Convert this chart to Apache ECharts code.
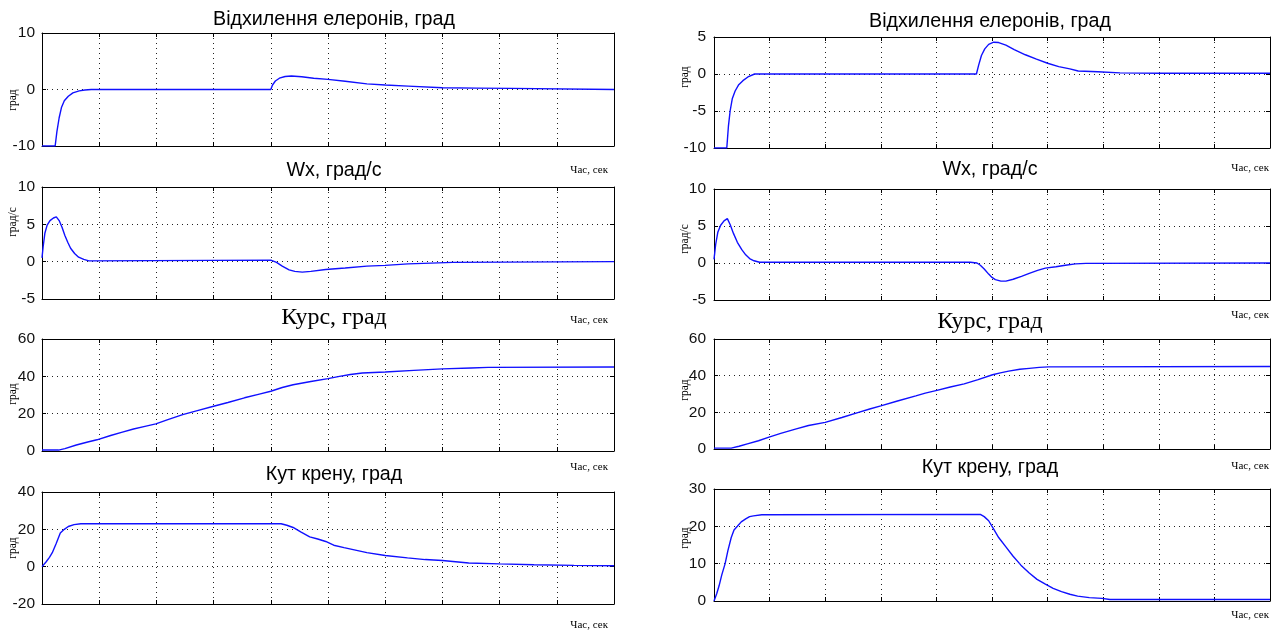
<!DOCTYPE html>
<html>
<head>
<meta charset="utf-8">
<script src="https://cdn.jsdelivr.net/npm/echarts@6/dist/echarts.min.js"></script>
<style>html,body{margin:0;padding:0;background:#fff}#c{width:1274px;height:630px}</style>
</head>
<body>
<div id="c"></div>
<script>
// ---- data (time 0..100, 10 grid divisions) ----
const aileronLeft = [[0,-10],[2.3,-10],[2.6,-7.5],[3.0,-5],[3.4,-3.2],[3.9,-2],[4.6,-1.2],[5.4,-0.6],[6.5,-0.25],[7.5,-0.1],[8.6,0],[40,0],[40.3,0.8],[40.8,1.5],[41.5,2.0],[42.5,2.3],[43.6,2.4],[45.4,2.25],[47.5,2.0],[50,1.8],[53,1.45],[56.8,1.0],[60,0.8],[64,0.6],[70,0.3],[76,0.25],[82,0.2],[82.2,0],[100,0]];
const aileronRight = [[0,-10],[2.3,-10],[2.6,-7],[2.9,-5],[3.3,-3.3],[3.8,-2.3],[4.4,-1.5],[5.2,-0.9],[6.1,-0.4],[7.3,0],[47.2,0],[47.6,1.2],[48.1,2.5],[48.7,3.4],[49.4,4.0],[50.3,4.3],[51.2,4.25],[52.5,3.9],[54,3.3],[56,2.6],[58,2.0],[60,1.45],[62,1.0],[64,0.7],[65.5,0.4],[69,0.3],[73,0.15],[80,0.1],[100,0.1]];
const wxLeft = [[0,0.5],[0.2,2],[0.5,3.8],[0.9,4.9],[1.4,5.5],[2.0,5.85],[2.5,6.0],[3.0,5.5],[3.5,4.6],[4.0,3.5],[4.5,2.6],[5.0,1.8],[5.7,1.1],[6.4,0.6],[7.3,0.3],[8.2,0.1],[40,0.2],[41,-0.1],[42,-0.6],[43.2,-1.1],[44.2,-1.3],[45.5,-1.4],[47,-1.3],[49.6,-1.05],[53,-0.85],[56.8,-0.6],[60,-0.5],[64,-0.3],[68,-0.2],[71.8,-0.1],[72,0],[100,0]];
const wxRight = [[0,0.5],[0.3,2.5],[0.7,4.2],[1.2,5.1],[1.8,5.7],[2.4,6.0],[2.9,5.2],[3.5,4.0],[4.2,2.8],[5.0,1.8],[5.7,1.1],[6.4,0.6],[7.2,0.3],[8.2,0.1],[46.1,0.1],[47.3,0],[47.9,-0.3],[48.6,-0.8],[49.4,-1.5],[50,-1.95],[50.6,-2.25],[51.6,-2.45],[52.5,-2.45],[53.8,-2.2],[55.3,-1.8],[56.7,-1.4],[58.2,-1.0],[59.6,-0.7],[61.5,-0.5],[63.2,-0.3],[65,-0.12],[66.9,-0.05],[100,0]];
const headingLeft = [[0,0.5],[2.9,0.5],[4,1.3],[6,3.2],[8,4.8],[9.6,6],[12,8.3],[13.9,10],[16,11.8],[18,13.2],[19.9,14.5],[22,16.8],[24.6,19.5],[27,21.5],[30,24],[32.5,26],[35.4,28.5],[38,30.5],[40,32],[42,34],[43.9,35.5],[47,37.2],[50,38.8],[52,40],[53.9,41],[56,41.8],[60,42.3],[65,43.2],[70,44],[75,44.5],[78,44.8],[100,45]];
const headingRight = [[0,0.5],[3.1,0.5],[4.5,1.5],[6,2.8],[8,4.5],[9.9,6.5],[12,8.5],[14.8,11],[17,12.8],[20,14.5],[23,17.2],[26,20],[28,21.8],[30,23.5],[33,26.2],[36.3,29],[38,30.5],[40.1,32],[42.5,33.8],[45,35.5],[47.5,37.8],[50.1,40.5],[51.5,41.5],[53,42.5],[55,43.5],[56.7,44],[58.5,44.5],[60.2,44.8],[100,45]];
const rollLeft = [[0,0],[0.7,2.5],[1.3,5],[1.8,7.5],[2.5,12.5],[3.2,18],[3.9,20],[4.6,21.5],[5.6,22.5],[6.8,23],[41.8,23],[42.8,22.2],[43.9,21],[45.3,18.5],[46.8,16],[48.2,14.8],[49.6,13.5],[51,11.5],[52.8,10.2],[54.6,9],[56.8,7.5],[60,6],[63.9,4.7],[67,3.8],[70,3.3],[74.6,2.0],[80,1.5],[86,1.0],[93,0.7],[100,0.5]];
const rollRight = [[0,0],[0.5,2],[0.9,4],[1.4,7],[2.0,10],[2.5,13.5],[3.1,17],[3.6,19],[4.2,20],[4.9,21.2],[5.7,22],[6.4,22.6],[7.1,22.8],[8.6,23.1],[47.9,23.2],[48.6,22.6],[49.4,21.5],[50.2,19.5],[51.2,17],[52.5,14.5],[53.8,12],[55.2,9.6],[56.7,7.5],[58.1,5.8],[59.6,4.5],[61,3.4],[62.5,2.5],[64,1.8],[65.4,1.3],[67.5,0.9],[69.8,0.7],[71.2,0.4],[100,0.4]];

const titles = ['Відхилення елеронів, град','Відхилення елеронів, град','Wx, град/с','Wx, град/с','Курс, град','Курс, град','Кут крену, град','Кут крену, град'];
const yNames = ['град','град','град/с','град/с','град','град','град','град'];
const xName = 'Час, сек';
const yRanges = [[-10,10,10],[-10,5,5],[-5,10,5],[-5,10,5],[0,60,20],[0,60,20],[-20,40,20],[0,30,10]];
const seriesData = [aileronLeft, aileronRight, wxLeft, wxRight, headingLeft, headingRight, rollLeft, rollRight];

// ---- layout ----
const grids = [
  {left:42, top:33, width:572, height:113},
  {left:714, top:37, width:556, height:111},
  {left:42, top:187, width:572, height:112},
  {left:714, top:189, width:556, height:111},
  {left:42, top:339, width:572, height:112},
  {left:714, top:339, width:556, height:110},
  {left:42, top:492, width:572, height:112},
  {left:714, top:489, width:556, height:112}
];
const titleY = [20, 22, 171, 170, 318, 322, 475, 468];
const serifTitle = [false,false,false,false,true,true,false,false];
const xNameY = [170, 168, 320, 315, 467, 466, 625, 615];
const yNamePos = [[13,100],[685,77],[13,222],[685,239],[13,394],[685,390],[13,548],[685,538]];

const SANS = '"Liberation Sans", Arial, sans-serif';
const SERIF = '"Liberation Serif", "Times New Roman", serif';
const dotted = {type:[1,4], color:'#222', width:1};

const xAxes = [], yAxes = [], series = [], graphics = [];
grids.forEach((g, i) => {
  const isRight = g.left > 600;
  xAxes.push({gridIndex:i, type:'value', min:0, max:100, interval:10, position:'bottom',
    axisLine:{show:true, onZero:false, lineStyle:{color:'#000', width:1}},
    axisTick:{show:true, inside:true, length:4, lineStyle:{color:'#000'}},
    axisLabel:{show:false}, splitLine:{show:true, lineStyle:dotted}});
  xAxes.push({gridIndex:i, type:'value', min:0, max:100, interval:10, position:'top',
    axisLine:{show:true, onZero:false, lineStyle:{color:'#000', width:1}},
    axisTick:{show:true, inside:true, length:4, lineStyle:{color:'#000'}},
    axisLabel:{show:false}, splitLine:{show:false}});
  const r = yRanges[i];
  yAxes.push({gridIndex:i, type:'value', min:r[0], max:r[1], interval:r[2], position:'left',
    axisLine:{show:true, onZero:false, lineStyle:{color:'#000', width:1}},
    axisTick:{show:true, inside:true, length:4, lineStyle:{color:'#000'}},
    axisLabel:{show:true, margin:isRight?8:7, color:'#111', fontFamily:SANS, fontSize:15.5},
    splitLine:{show:true, lineStyle:dotted}});
  yAxes.push({gridIndex:i, type:'value', min:r[0], max:r[1], interval:r[2], position:'right',
    axisLine:{show:true, onZero:false, lineStyle:{color:'#000', width:1}},
    axisTick:{show:true, inside:true, length:4, lineStyle:{color:'#000'}},
    axisLabel:{show:false}, splitLine:{show:false}});
  series.push({type:'line', xAxisIndex:2*i, yAxisIndex:2*i, data:seriesData[i], showSymbol:false,
    symbol:'none', lineStyle:{color:'#1010ff', width:1.4}, silent:true});
  const cx = isRight ? 990 : 334;
  graphics.push({type:'text', x:cx, y:titleY[i], style:{text:titles[i],
    font: serifTitle[i] ? ('24px ' + SERIF) : ('19.7px ' + SANS), fill:'#000',
    textAlign:'center', textVerticalAlign:'middle'}});
  graphics.push({type:'text', x: isRight ? 1269 : 608, y:xNameY[i], style:{text:xName,
    font:'11px ' + SERIF, fill:'#000', textAlign:'right', textVerticalAlign:'middle'}});
  graphics.push({type:'text', x:yNamePos[i][0], y:yNamePos[i][1], rotation:Math.PI/2, style:{text:yNames[i],
    font:'11.5px ' + SERIF, fill:'#000', textAlign:'center', textVerticalAlign:'middle'}});
});

const chart = echarts.init(document.getElementById('c'), null, {renderer:'canvas'});
chart.setOption({
  animation:false,
  backgroundColor:'#fff',
  grid: grids.map(g => Object.assign({containLabel:false}, g)),
  xAxis:xAxes, yAxis:yAxes, series:series, graphic:graphics
});
</script>
</body>
</html>
